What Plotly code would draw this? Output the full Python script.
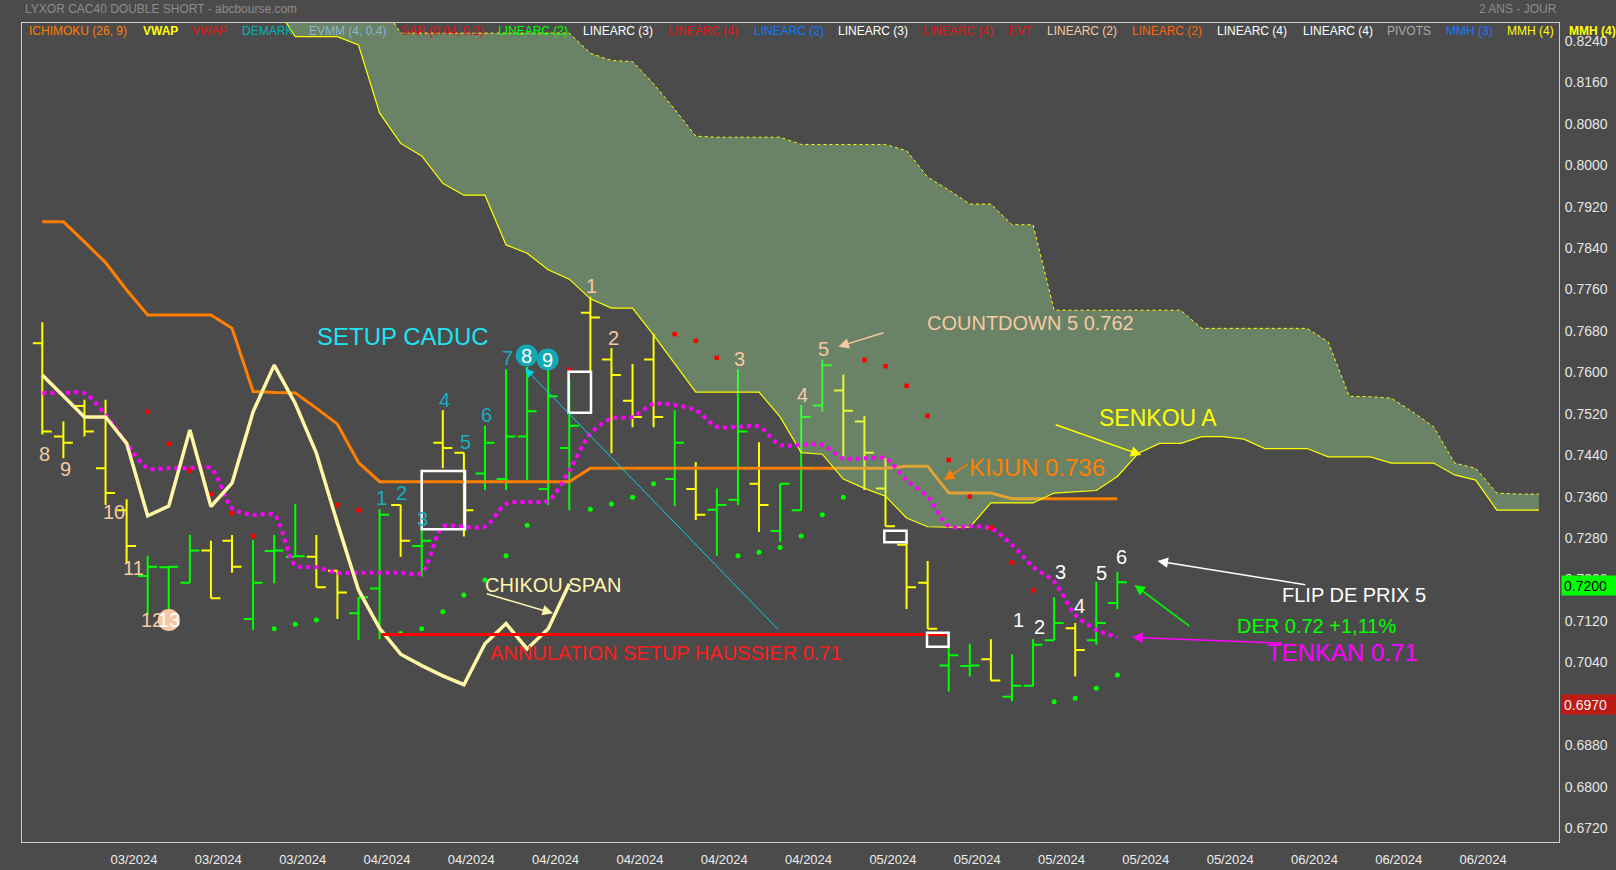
import plotly.graph_objects as go

# ---------------- DATA ----------------
month_labels = ["03/2024", "03/2024", "03/2024", "04/2024", "04/2024", "04/2024",
                "04/2024", "04/2024", "04/2024", "05/2024", "05/2024", "05/2024",
                "05/2024", "05/2024", "06/2024", "06/2024", "06/2024"]
first_label_bar = 4.35      # bar index under the first date label
label_step_bars = 4         # one date label every 4 bars

price_ticks = [0.672, 0.680, 0.688, 0.696, 0.704, 0.712, 0.720, 0.728, 0.736, 0.744,
               0.752, 0.760, 0.768, 0.776, 0.784, 0.792, 0.800, 0.808, 0.816, 0.824]

bar_open = [0.7656, 0.7476, 0.7535, 0.7415, 0.7334, 0.7207, 0.7224, 0.7194, 0.7256, 0.7275,
            0.7124, 0.7255, 0.7244, 0.7244, 0.7217, 0.7135, 0.7183, 0.7344, 0.7265, 0.7464,
            0.7445, 0.7405, 0.7394, 0.7476, 0.7375, 0.7454, 0.7715, 0.7625, 0.7545, 0.7625,
            0.7394, 0.7375, 0.7335, 0.7354, 0.7385, 0.7294, 0.7334, 0.7536, 0.7565, 0.7505,
            0.7376, 0.7267, 0.7194, 0.7034, 0.7033, 0.7046, 0.6974, 0.6995, 0.7083, 0.7106,
            0.7083, 0.7155]
bar_high = [0.7697, 0.7505, 0.7547, 0.7547, 0.7355, 0.7246, 0.7226, 0.7286, 0.7275, 0.7286,
            0.7276, 0.7286, 0.7346, 0.7286, 0.7217, 0.7166, 0.7336, 0.7344, 0.7296, 0.7527,
            0.7445, 0.7497, 0.7606, 0.7611, 0.7605, 0.7585, 0.7746, 0.7647, 0.7616, 0.7675,
            0.7527, 0.7427, 0.7376, 0.7606, 0.7465, 0.7385, 0.7537, 0.7625, 0.7596, 0.7516,
            0.7434, 0.7271, 0.7236, 0.7070, 0.7076, 0.7085, 0.7056, 0.7085, 0.7166, 0.7116,
            0.7196, 0.7215]
bar_low = [0.7480, 0.7434, 0.7476, 0.7344, 0.7231, 0.7132, 0.7137, 0.7194, 0.7164, 0.7213,
           0.7103, 0.7193, 0.7243, 0.7185, 0.7124, 0.7083, 0.7085, 0.7244, 0.7206, 0.7415,
           0.7283, 0.7373, 0.7373, 0.7392, 0.7344, 0.7334, 0.7601, 0.7444, 0.7494, 0.7494,
           0.7342, 0.7315, 0.7246, 0.7344, 0.7292, 0.7273, 0.7334, 0.7524, 0.7437, 0.7373,
           0.7303, 0.7143, 0.7105, 0.6984, 0.7013, 0.7005, 0.6965, 0.6995, 0.7083, 0.7013,
           0.7074, 0.7143]
bar_close = [0.7486, 0.7464, 0.7486, 0.7367, 0.7265, 0.7225, 0.7225, 0.7256, 0.7164, 0.7225,
             0.7194, 0.7256, 0.7245, 0.7185, 0.7175, 0.7166, 0.7325, 0.7275, 0.7275, 0.7454,
             0.7334, 0.7464, 0.7476, 0.7525, 0.7554, 0.7497, 0.7706, 0.7595, 0.7514, 0.7514,
             0.7464, 0.7325, 0.7344, 0.7486, 0.7344, 0.7385, 0.7514, 0.7614, 0.7526, 0.7445,
             0.7303, 0.7185, 0.7105, 0.7054, 0.7034, 0.7005, 0.6995, 0.7074, 0.7116, 0.7064,
             0.7116, 0.7195]

kijun = [0.7891, 0.7891, 0.7852, 0.7812, 0.7759, 0.7711, 0.7711, 0.7711, 0.7711, 0.7685,
         0.7563, 0.7561, 0.7560, 0.7531, 0.7500, 0.7426, 0.7389, 0.7389, 0.7389, 0.7389,
         0.7389, 0.7389, 0.7389, 0.7389, 0.7389, 0.7389, 0.7415, 0.7415, 0.7415, 0.7415,
         0.7415, 0.7415, 0.7415, 0.7415, 0.7415, 0.7415, 0.7415, 0.7415, 0.7415, 0.7415,
         0.7415, 0.7419, 0.7419, 0.7367, 0.7367, 0.7367, 0.7356, 0.7356, 0.7356, 0.7356,
         0.7356, 0.7356]

tenkan = [0.7560, 0.7560, 0.7560, 0.7518, 0.7463, 0.7415, 0.7415, 0.7415, 0.7415, 0.7338,
          0.7325, 0.7325, 0.7228, 0.7224, 0.7213, 0.7213, 0.7213, 0.7213, 0.7213, 0.7302,
          0.7302, 0.7302, 0.7346, 0.7350, 0.7352, 0.7410, 0.7482, 0.7511, 0.7514, 0.7539,
          0.7537, 0.7527, 0.7495, 0.7495, 0.7495, 0.7460, 0.7460, 0.7460, 0.7434, 0.7434,
          0.7434, 0.7392, 0.7360, 0.7303, 0.7303, 0.7299, 0.7267, 0.7225, 0.7196, 0.7132,
          0.7103, 0.7089]

chikou = [0.7595, 0.7554, 0.7514, 0.7514, 0.7463, 0.7323, 0.7342, 0.7489, 0.7341, 0.7386,
          0.7524, 0.7614, 0.7540, 0.7444, 0.7309, 0.7180, 0.7106, 0.7056, 0.7034, 0.7014,
          0.6997, 0.7076, 0.7115, 0.7066, 0.7105, 0.7192]

N = None
sar_above = [N, N, N, N, N, 0.7524, 0.7462, 0.7410, 0.7365, 0.7328,
             0.7284, N, N, N, 0.7344, 0.7334, N, N, N, N,
             N, N, N, N, 0.7614, 0.7605, N, N, N, N,
             0.7674, 0.7661, 0.7628, N, N, N, N, N, N, 0.7624,
             0.7612, 0.7574, 0.7516, 0.7431, 0.7360, 0.7300, 0.7233, 0.7179, N, N,
             N, N]
sar_below = [N, N, N, N, N, N, N, N, N, N,
             N, 0.7105, 0.7114, 0.7122, N, N, N, 0.7096, 0.7105, 0.7138,
             0.7170, 0.7199, 0.7246, 0.7305, N, N, 0.7336, 0.7346, 0.7359, 0.7385,
             N, N, N, 0.7246, 0.7253, 0.7262, 0.7284, 0.7325, 0.7359, N,
             N, N, N, N, N, N, N, N, 0.6964, 0.6971,
             0.6990, 0.7016]

cloud_first_bar = 11
senkou_a = [0.8311, 0.8248, 0.8248, 0.8248, 0.8232, 0.8101, 0.8042, 0.8018, 0.7965, 0.7942,
            0.7942, 0.7846, 0.7830, 0.7798, 0.7780, 0.7742, 0.7724, 0.7724, 0.7672, 0.7618,
            0.7562, 0.7562, 0.7562, 0.7562, 0.7514, 0.7445, 0.7442, 0.7394, 0.7376, 0.7361,
            0.7319, 0.7302, 0.7301, 0.7301, 0.7348, 0.7348, 0.7348, 0.7367, 0.7369, 0.7372,
            0.7399, 0.7444, 0.7463, 0.7463, 0.7476, 0.7476, 0.7471, 0.7453, 0.7453, 0.7453,
            0.7437, 0.7437, 0.7437, 0.7425, 0.7425, 0.7425, 0.7402, 0.7392, 0.7334, 0.7334,
            0.7334]
senkou_b = [0.8400, 0.8360, 0.8360, 0.8360, 0.8360, 0.8319, 0.8255, 0.8255, 0.8255, 0.8255,
            0.8255, 0.8255, 0.8255, 0.8255, 0.8255, 0.8216, 0.8202, 0.8200, 0.8157, 0.8108,
            0.8056, 0.8054, 0.8054, 0.8054, 0.8054, 0.8040, 0.8040, 0.8040, 0.8040, 0.8040,
            0.8028, 0.7977, 0.7952, 0.7925, 0.7925, 0.7885, 0.7885, 0.7720, 0.7720, 0.7720,
            0.7720, 0.7720, 0.7720, 0.7720, 0.7685, 0.7685, 0.7685, 0.7685, 0.7685, 0.7685,
            0.7659, 0.7554, 0.7553, 0.7550, 0.7524, 0.7495, 0.7425, 0.7415, 0.7367, 0.7365,
            0.7365]

annulation_level = 0.7094
annulation_bars = (16.1, 42.9)
last_price_label = "0.7200"
low_price_label = "0.6970"

bars = list(range(len(bar_close)))
cloud_bars = list(range(cloud_first_bar, cloud_first_bar + len(senkou_a)))

# ---------------- pixel <-> data helpers (layout placement only) ----------------
W, H = 1616, 870
PL, PR, PT, PB = 22, 1559, 23, 842
BAR0_PX, BAR_PX = 42.3, 21.08
Y_REF, Y_REF_PX, PX_PER_UNIT = 0.816, 82.3, 5180.0


def bx(px):
    return (px - BAR0_PX) / BAR_PX


def pv(py):
    return Y_REF - (py - Y_REF_PX) / PX_PER_UNIT


def paper_x(px):
    return (px - PL) / (PR - PL)


def paper_y(py):
    return (PB - py) / (PB - PT)


FONT = "Liberation Sans, Arial, sans-serif"

fig = go.Figure()

fig.add_trace(go.Ohlc(
    x=bars, open=bar_open, high=bar_high, low=bar_low, close=bar_close,
    increasing=dict(line=dict(color="#00FF00", width=2)),
    decreasing=dict(line=dict(color="#FFFF00", width=2)),
    tickwidth=0.45, hoverinfo="skip", showlegend=False))

fig.add_trace(go.Scatter(x=bars, y=kijun, mode="lines",
                         line=dict(color="#FF7F00", width=3), hoverinfo="skip"))

fig.add_trace(go.Scatter(x=cloud_bars, y=senkou_b, mode="lines",
                         line=dict(color="#FFFF00", width=1, dash="dot"), hoverinfo="skip"))
fig.add_trace(go.Scatter(x=cloud_bars, y=senkou_a, mode="lines", fill="tonexty",
                         fillcolor="rgba(166,235,152,0.35)",
                         line=dict(color="#FFFF00", width=1.2), hoverinfo="skip"))

fig.add_trace(go.Scatter(x=bars, y=tenkan, mode="lines",
                         line=dict(color="#FF00FF", width=4, dash="dot", shape="spline",
                                   smoothing=0.8), hoverinfo="skip"))

fig.add_trace(go.Scatter(x=bars, y=sar_above, mode="markers",
                         marker=dict(symbol="square", size=4.5, color="#FF0000"), hoverinfo="skip"))
fig.add_trace(go.Scatter(x=bars, y=sar_below, mode="markers",
                         marker=dict(symbol="circle", size=5, color="#00FF00"), hoverinfo="skip"))

fig.add_trace(go.Scatter(x=bars[:len(chikou)], y=chikou, mode="lines",
                         line=dict(color="#FFF7A6", width=3.5), hoverinfo="skip"))

shapes = []
# annulation level line
shapes.append(dict(type="line", xref="x", yref="y", x0=annulation_bars[0], x1=annulation_bars[1],
                   y0=annulation_level, y1=annulation_level, line=dict(color="#FF0000", width=3),
                   layer="above"))
# white boxes
for (x0, y0, x1, y1) in [(421.7, 471, 465, 529.3), (568.6, 371.7, 591, 412.7),
                         (884.3, 530.7, 906.5, 542.3), (927, 632.7, 948.6, 646.7)]:
    shapes.append(dict(type="rect", xref="x", yref="y", x0=bx(x0), x1=bx(x1), y0=pv(y1), y1=pv(y0),
                       line=dict(color="#FFFFFF", width=2.5), fillcolor="rgba(0,0,0,0)",
                       layer="above"))
# circles
for (cx, cy, col) in [(526.7, 355.5, "#12A8B5"), (547.7, 359.5, "#12A8B5"), (168.8, 620, "#F7C6A6")]:
    r = 11
    shapes.append(dict(type="circle", xref="x", yref="y", x0=bx(cx - r), x1=bx(cx + r),
                       y0=pv(cy + r), y1=pv(cy - r), fillcolor=col, line=dict(width=0),
                       layer="above"))

ann = []


def txt(s, px, py, color, size, **kw):
    d = dict(text=s, x=bx(px), y=pv(py), xref="x", yref="y", showarrow=False,
             font=dict(color=color, size=size, family=FONT), xanchor="center", yanchor="middle")
    d.update(kw)
    ann.append(d)


big_labels = [
    ("SETUP CADUC", 403, 336.7, "#1CE4F2", 24),
    ("COUNTDOWN 5 0.762", 1030.3, 323.3, "#F5C9A3", 20),
    ("SENKOU A", 1157.5, 417.8, "#FFFF00", 23),
    ("KIJUN 0.736", 1037, 467.5, "#FF8000", 24),
    ("CHIKOU SPAN", 553.2, 584.8, "#FFF7B0", 20),
    ("ANNULATION SETUP HAUSSIER 0.71", 666, 653, "#FF1A1A", 20),
    ("FLIP DE PRIX 5", 1353.7, 594.5, "#FFFFFF", 20),
    ("DER 0.72 +1,11%", 1316, 625.5, "#00FF00", 20),
    ("TENKAN 0.71", 1342.5, 652, "#FF00FF", 24),
]
for s, px, py, c, sz in big_labels:
    txt(s, px, py, c, sz)

TAN, TEAL, WHITE = "#F5C9A3", "#14AFC2", "#FFFFFF"
count_labels = [
    ("8", 44, 454, TAN), ("9", 65.8, 469.3, TAN), ("10", 113.7, 511.7, TAN),
    ("11", 133.2, 568.3, TAN), ("12", 152, 620, TAN),
    ("1", 381.6, 498.3, TEAL), ("2", 401.8, 493.3, TEAL), ("3", 422.9, 519.3, TEAL),
    ("4", 444, 400, TEAL), ("5", 465.8, 442.3, TEAL), ("6", 486, 415, TEAL), ("7", 507, 358.3, TEAL),
    ("1", 591, 286, TAN), ("2", 613.2, 338.3, TAN), ("3", 739.3, 359, TAN),
    ("4", 802, 395, TAN), ("5", 823.2, 349, TAN),
    ("1", 1018.3, 620, WHITE), ("2", 1039.5, 626.7, WHITE), ("3", 1060, 571.7, WHITE),
    ("4", 1079.9, 606, WHITE), ("5", 1101, 573.3, WHITE), ("6", 1121.6, 556.7, WHITE),
    ("8", 526.7, 355.5, WHITE), ("9", 547.7, 359.5, WHITE), ("13", 168.8, 620, WHITE),
]
for s, px, py, c in count_labels:
    txt(s, px, py, c, 20)

arrows = [  # tip x, tip y, tail x, tail y, color, width
    (838.4, 346.7, 885, 332.3, "#F5C9A3", 1.5),
    (1141.4, 455, 1054.2, 424.3, "#FFFF00", 1.5),
    (944, 480, 969.2, 463.3, "#FF8000", 1.5),
    (553, 613.3, 485.3, 593.3, "#FFF7B0", 1.5),
    (1157.5, 561, 1306.7, 585, "#FFFFFF", 1.5),
    (1134.5, 585, 1191, 627.3, "#00FF00", 1.5),
    (1132.2, 637.3, 1283.7, 643.3, "#FF00FF", 1.5),
    (525, 368.3, 779.6, 631, "#00D4E6", 1.0),
]
for tx, ty, sx, sy, c, w in arrows:
    ann.append(dict(text="", x=bx(tx), y=pv(ty), xref="x", yref="y", showarrow=True,
                    ax=sx - tx, ay=sy - ty, axref="pixel", ayref="pixel",
                    arrowhead=2, arrowsize=1.4 if w > 1 else 1.8, arrowwidth=w, arrowcolor=c,
                    standoff=0, startstandoff=0))

# header
ann.append(dict(text="LYXOR CAC40 DOUBLE SHORT - abcbourse.com", x=paper_x(22.7), y=paper_y(8.5),
                xref="paper", yref="paper", xanchor="left", yanchor="middle", showarrow=False,
                font=dict(color="#8C8C8C", size=12, family=FONT)))
ann.append(dict(text="2 ANS - JOUR", x=paper_x(1558.6), y=paper_y(8.5),
                xref="paper", yref="paper", xanchor="right", yanchor="middle", showarrow=False,
                font=dict(color="#8C8C8C", size=12, family=FONT)))

legend_items = [
    (26.9, "ICHIMOKU (26, 9)", "#FF8000", False), (140.5, "VWAP", "#FFFF00", True),
    (190, "VWAP", "#E01414", False), (240, "DEMARK", "#00B4B4", False),
    (306.8, "EVMM (4, 0.4)", "#8CB4CC", False), (398.8, "SAR (0.04, 0.2)", "#E01414", False),
    (495.9, "LINEARC (2)", "#00FF00", False), (581, "LINEARC (3)", "#FFFFFF", False),
    (666, "LINEARC (4)", "#E01414", False), (751.5, "LINEARC (2)", "#0A78FF", False),
    (836.4, "LINEARC (3)", "#FFFFFF", False), (920.7, "LINEARC (4)", "#E01414", False),
    (1006.6, "EVT", "#E01414", False), (1044.5, "LINEARC (2)", "#F5C9A3", False),
    (1130.4, "LINEARC (2)", "#FF6400", False), (1214.7, "LINEARC (4)", "#FFFFFF", False),
    (1300.5, "LINEARC (4)", "#FFFFFF", False), (1385.3, "PIVOTS", "#AAAAAA", False),
    (1443.6, "MMH (3)", "#1478FF", False), (1505, "MMH (4)", "#FFFF00", False),
    (1567.4, "MMH (4)", "#FFFF00", True),
]
for px, s, c, b in legend_items:
    ann.append(dict(text="<b>%s</b>" % s if b else s, x=paper_x(px), y=paper_y(31),
                    xref="paper", yref="paper", xanchor="left", yanchor="middle",
                    showarrow=False, font=dict(color=c, size=12, family=FONT)))

# right axis price boxes
ann.append(dict(text=last_price_label, x=paper_x(1561), y=pv(585.5), xref="paper", yref="y",
                xanchor="left", yanchor="middle", showarrow=False, align="left",
                bgcolor="#00FF00", width=51, height=15, borderpad=2,
                font=dict(color="#000000", size=14, family=FONT)))
ann.append(dict(text=low_price_label, x=paper_x(1561), y=pv(704.7), xref="paper", yref="y",
                xanchor="left", yanchor="middle", showarrow=False, align="left",
                bgcolor="#BE1A14", width=51, height=15, borderpad=2,
                font=dict(color="#F0F0F0", size=14, family=FONT)))

fig.update_layout(
    width=W, height=H, autosize=False,
    margin=dict(l=PL, r=W - PR, t=PT, b=H - PB, pad=0, autoexpand=False),
    paper_bgcolor="#4B4B4B", plot_bgcolor="#4B4B4B",
    showlegend=False, font=dict(family=FONT),
    shapes=shapes, annotations=ann,
    xaxis=dict(range=[bx(PL), bx(PR)], showgrid=False, zeroline=False, automargin=False,
               tickmode="array",
               tickvals=[first_label_bar + label_step_bars * i for i in range(len(month_labels))],
               ticktext=month_labels, ticks="", ticklabelstandoff=5,
               tickfont=dict(color="#EDEDED", size=13, family=FONT),
               showline=True, mirror=True, linecolor="#D0D0D0", linewidth=1,
               rangeslider=dict(visible=False), fixedrange=True),
    yaxis=dict(range=[pv(PB), pv(PT)], side="right", showgrid=False, zeroline=False,
               automargin=False,
               tickmode="array", tickvals=price_ticks,
               ticktext=["%.4f" % v for v in price_ticks], ticks="", ticklabelstandoff=2,
               tickfont=dict(color="#E6E6E6", size=14, family=FONT),
               showline=True, mirror=True, linecolor="#D0D0D0", linewidth=1, fixedrange=True),
)

fig.write_html("out.html", config={"displayModeBar": False},
               post_script="document.body.style.margin='0';document.body.style.overflow='hidden';")
